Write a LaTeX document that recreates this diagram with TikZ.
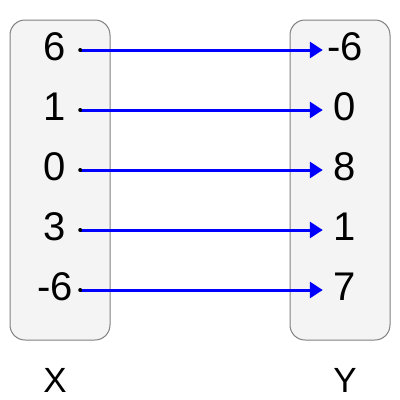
\documentclass[tikz,border=0pt]{standalone}
\usepackage{fontspec}
\setmainfont{Liberation Sans}
\usetikzlibrary{arrows.meta}
\definecolor{setfill}{HTML}{F4F4F4}
\definecolor{setline}{HTML}{808080}
\begin{document}
\begin{tikzpicture}[x=1pt, y=-1pt,
		setbox/.style={draw=setline, fill=setfill, line width=1pt, rounded corners=15pt},
		elemx/.style={font=\fontsize{40}{40}\selectfont, text height=20pt, text depth=0pt, inner sep=0pt, minimum width=50pt},
		elemy/.style={font=\fontsize{40}{40}\selectfont, text height=20pt, text depth=0pt, inner sep=0pt, minimum width=44pt},
		setname/.style={font=\fontsize{35}{35}\selectfont, inner sep=0pt},
		maparrow/.style={draw=blue, line width=3pt, -{Triangle[length=13pt,width=16pt]}}]
			%%%%% START %%%%%
			
			\useasboundingbox (0, 0) rectangle (400, 400);
			
			\draw[setbox] (10, 20) rectangle (110, 340);
			\draw[setbox] (290, 20) rectangle (390, 340);
			
			\node[elemx] (x1) at (55, 50) {6};
			\node[elemx] (x2) at (55, 110) {1};
			\node[elemx] (x3) at (55, 170) {0};
			\node[elemx] (x4) at (55, 230) {3};
			\node[elemx] (x5) at (55, 290) {-6};
			
			\node[elemy] (y1) at (345, 50) {-6};
			\node[elemy] (y2) at (345, 110) {0};
			\node[elemy] (y3) at (345, 170) {8};
			\node[elemy] (y4) at (345, 230) {1};
			\node[elemy] (y5) at (345, 290) {7};
			
			\draw[maparrow] (x1.east) -- (y1.west);
			\draw[maparrow] (x2.east) -- (y2.west);
			\draw[maparrow] (x3.east) -- (y3.west);
			\draw[maparrow] (x4.east) -- (y4.west);
			\draw[maparrow] (x5.east) -- (y5.west);
			
			\fill (x1.east) circle (2);
			\fill (x2.east) circle (2);
			\fill (x3.east) circle (2);
			\fill (x4.east) circle (2);
			\fill (x5.east) circle (2);
			
			\node[setname] (setx) at (55, 380) {X};
			\node[setname] (sety) at (345, 380) {Y};
			
			%%%%% END %%%%%
		\end{tikzpicture}
\end{document}
